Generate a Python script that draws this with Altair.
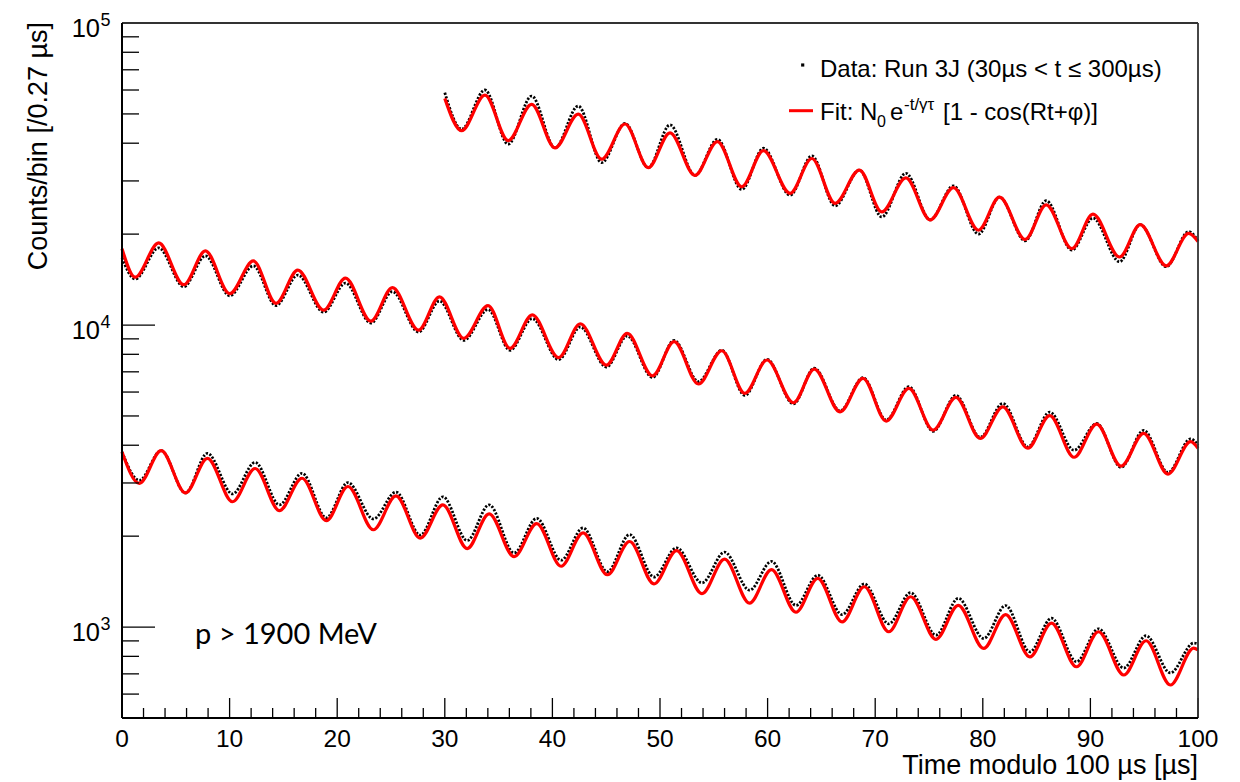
import altair as alt
import pandas as pd

# ---------------- values ----------------
# extrema (peak / trough) positions of each wrapped segment, time in µs modulo 100
t_upper = [30.0, 31.56, 33.73, 35.89, 38.07, 40.24, 42.40, 44.58, 46.75, 48.91,
           50.93, 53.25, 55.33, 57.60, 59.61, 62.09, 64.11, 66.27, 68.53, 70.61,
           72.85, 75.11, 77.27, 79.60, 81.55, 83.94, 85.89, 88.28, 90.24, 92.71,
           94.63, 97.05, 99.13, 100.0]
fit_upper = [56300, 44000, 57700, 40800, 53800, 38600, 49900, 35400, 46300, 33200,
             43300, 31300, 40500, 28700, 37800, 27300, 35600, 25300, 32600, 23700,
             30700, 22300, 28500, 20600, 26500, 19200, 25000, 17900, 23300, 16800,
             21500, 15700, 20100, 18900]
data_upper = [58800, 44500, 60000, 39700, 57300, 38600, 53100, 34500, 46500, 33200,
              46000, 31300, 41200, 28100, 38500, 26900, 36300, 24800, 32600, 22800,
              31800, 22300, 28900, 20000, 26500, 19000, 25800, 17700, 22600, 16200,
              21500, 15600, 20400, 19000]

t_middle = [0.0, 1.22, 3.41, 5.74, 7.75, 10.01, 12.21, 14.31, 16.34, 18.74,
            20.77, 23.13, 25.13, 27.56, 29.50, 31.76, 34.02, 36.06, 38.13, 40.58,
            42.59, 45.02, 46.95, 49.31, 51.31, 53.57, 55.74, 57.88, 59.94, 62.40,
            64.34, 66.73, 68.87, 71.02, 73.13, 75.39, 77.50, 79.76, 81.86, 84.18,
            86.22, 88.48, 90.58, 92.85, 94.95, 97.21, 99.31, 100.0]
fit_middle = [17900, 14400, 18700, 13600, 17600, 12700, 16300, 11800, 15200, 11200,
              14300, 10300, 13300, 9620, 12400, 9040, 11600, 8370, 10800, 7800,
              10100, 7370, 9390, 6790, 8810, 6380, 8220, 5940, 7660, 5530,
              7150, 5160, 6660, 4810, 6170, 4490, 5760, 4210, 5360, 3910,
              5010, 3650, 4700, 3410, 4380, 3210, 4110, 3910]
data_middle = [16700, 14200, 18000, 13400, 16950, 12500, 15700, 11600, 14640, 11030,
               13770, 10150, 12900, 9480, 12000, 8900, 11250, 8250, 10500, 7680,
               9850, 7260, 9200, 6700, 8900, 6500, 8250, 5850, 7700, 5480,
               7200, 5200, 6700, 4850, 6250, 4450, 5850, 4250, 5500, 3950,
               5150, 3850, 4720, 3380, 4480, 3250, 4200, 4000]

t_lower = [0.0, 1.61, 3.64, 5.90, 7.94, 10.27, 12.37, 14.63, 16.73, 18.99,
           21.00, 23.36, 25.46, 27.72, 29.82, 32.08, 34.12, 36.44, 38.54, 40.81,
           42.85, 45.11, 47.17, 49.44, 51.54, 53.90, 56.00, 58.32, 60.36, 62.63,
           64.66, 66.92, 68.99, 71.26, 73.29, 75.65, 77.72, 80.08, 82.12, 84.38,
           86.38, 88.71, 90.75, 93.10, 95.17, 97.43, 99.6, 100.0]
fit_lower = [3800, 2990, 3840, 2780, 3620, 2600, 3350, 2430, 3110, 2250,
             2920, 2100, 2720, 1970, 2540, 1820, 2370, 1710, 2200, 1590,
             2050, 1490, 1920, 1390, 1790, 1290, 1680, 1200, 1550, 1120,
             1450, 1040, 1360, 965, 1260, 911, 1180, 850, 1100, 797,
             1030, 739, 965, 694, 901, 643, 852, 840]
data_lower = [3800, 3060, 3840, 2780, 3760, 2760, 3510, 2540, 3230, 2300,
              3010, 2280, 2800, 2015, 2700, 1935, 2540, 1760, 2290, 1665,
              2130, 1525, 2025, 1465, 1830, 1400, 1770, 1325, 1650, 1180,
              1485, 1100, 1390, 1025, 1300, 940, 1245, 917, 1178, 828,
              1070, 768, 987, 732, 936, 705, 885, 880]

# axis ticks and labels
x_major = [0, 10, 20, 30, 40, 50, 60, 70, 80, 90, 100]
x_minor = [2, 4, 6, 8, 12, 14, 16, 18, 22, 24, 26, 28, 32, 34, 36, 38, 42, 44, 46, 48,
           52, 54, 56, 58, 62, 64, 66, 68, 72, 74, 76, 78, 82, 84, 86, 88, 92, 94, 96, 98]
y_major = [1000, 10000, 100000]
y_major_exp = ["3", "4", "5"]
y_minor = [600, 700, 800, 900,
           2000, 3000, 4000, 5000, 6000, 7000, 8000, 9000,
           20000, 30000, 40000, 50000, 60000, 70000, 80000, 90000]

x_title = "Time modulo 100 µs [µs]"
y_title = "Counts/bin [/0.27 µs]"
legend_data = "Data: Run 3J (30µs < t ≤ 300µs)"
legend_fit_parts = ["Fit: N", "0", "e", "-t/γτ", "[1 - cos(Rt+φ)]"]
note = "p > 1900 MeV"

# ---------------- build chart ----------------
rows = []
for seg, ts, fs, ds in [("upper", t_upper, fit_upper, data_upper),
                        ("middle", t_middle, fit_middle, data_middle),
                        ("lower", t_lower, fit_lower, data_lower)]:
    for t, f, d in zip(ts, fs, ds):
        rows.append({"seg": seg, "t": t, "fit": f, "data": d})
df = pd.DataFrame(rows)

W, H = 1076, 695
FONT = "Liberation Sans"
xs = alt.Scale(domain=[0, 100], nice=False, zero=False)
ys = alt.Scale(type="log", domain=[500, 100000], nice=False)

X = lambda f: alt.X(f, scale=xs, axis=None)
Y = lambda f: alt.Y(f, scale=ys, axis=None)

data_line = alt.Chart(df).mark_line(
    color="black", strokeWidth=2.8, strokeDash=[2.2, 1.6], interpolate="monotone"
).encode(x=X("t:Q"), y=Y("data:Q"), detail="seg:N")

fit_line = alt.Chart(df).mark_line(
    color="#ff0000", strokeWidth=3.2, interpolate="monotone"
).encode(x=X("t:Q"), y=Y("fit:Q"), detail="seg:N")

# frame
frame_l = alt.Chart(pd.DataFrame({"a": [0]})).mark_rule(color="black", strokeWidth=2).encode(
    x=alt.value(0), y=alt.value(0), y2=alt.value(H))
frame_b = alt.Chart(pd.DataFrame({"a": [0]})).mark_rule(color="black", strokeWidth=2).encode(
    x=alt.value(0), x2=alt.value(W), y=alt.value(H))
frame_t = alt.Chart(pd.DataFrame({"a": [0]})).mark_rule(color="#333333", strokeWidth=1.8).encode(
    x=alt.value(0), x2=alt.value(W), y=alt.value(0))
frame_r = alt.Chart(pd.DataFrame({"a": [0]})).mark_rule(color="#333333", strokeWidth=1.8).encode(
    x=alt.value(W), y=alt.value(0), y2=alt.value(H))

# ticks (ROOT style, pointing inward)
xt_major = alt.Chart(pd.DataFrame({"t": x_major})).mark_rule(color="black", strokeWidth=1.3).encode(
    x=X("t:Q"), y=alt.value(H), y2=alt.value(H - 20))
xt_minor = alt.Chart(pd.DataFrame({"t": x_minor})).mark_rule(color="black", strokeWidth=1.3).encode(
    x=X("t:Q"), y=alt.value(H), y2=alt.value(H - 10))
yt_major = alt.Chart(pd.DataFrame({"v": y_major})).mark_rule(color="black", strokeWidth=1.3).encode(
    y=Y("v:Q"), x=alt.value(0), x2=alt.value(33))
yt_minor = alt.Chart(pd.DataFrame({"v": y_minor})).mark_rule(color="black", strokeWidth=1.3).encode(
    y=Y("v:Q"), x=alt.value(0), x2=alt.value(17))

# tick labels
x_labels = alt.Chart(pd.DataFrame({"t": x_major})).mark_text(
    font=FONT, fontSize=24.5, align="center", baseline="alphabetic", color="black"
).encode(x=X("t:Q"), y=alt.value(H + 28.7), text=alt.Text("t:Q", format="d"))

ylab_df = pd.DataFrame({"v": y_major, "base": ["10"] * len(y_major), "exp": y_major_exp})
y_labels = alt.Chart(ylab_df).mark_text(
    font=FONT, fontSize=25.5, align="right", baseline="alphabetic", dy=13.7, color="black"
).encode(y=Y("v:Q"), x=alt.value(-22), text="base:N")
y_exps = alt.Chart(ylab_df).mark_text(
    font=FONT, fontSize=18, align="left", baseline="alphabetic", dy=2.7, color="black"
).encode(y=Y("v:Q"), x=alt.value(-21.5), text="exp:N")


def label(txt, x, y, size, align="left", angle=None, font=FONT):
    kw = dict(font=font, fontSize=size, align=align, baseline="alphabetic", color="black")
    if angle is not None:
        kw["angle"] = angle
    return alt.Chart(pd.DataFrame({"s": [txt]})).mark_text(**kw).encode(
        x=alt.value(x), y=alt.value(y), text="s:N")


x_title_mark = label(x_title, W, H + 56, 27, align="right")
y_title_mark = label(y_title, -75.5, -1, 27, align="right", angle=270)

# legend
leg_dot = alt.Chart(pd.DataFrame({"a": [0]})).mark_point(
    shape="square", filled=True, size=10, color="black", opacity=1
).encode(x=alt.value(680.7), y=alt.value(42))
leg_line = alt.Chart(pd.DataFrame({"a": [0]})).mark_rule(color="#ff0000", strokeWidth=3).encode(
    x=alt.value(667), x2=alt.value(691), y=alt.value(87.7))
leg_t1 = label(legend_data, 698, 53.7, 24)
leg_f1 = label(legend_fit_parts[0], 698, 97, 24)
leg_f2 = label(legend_fit_parts[1], 755, 104, 16)
leg_f3 = label(legend_fit_parts[2], 768, 97, 24)
leg_f4 = label(legend_fit_parts[3], 782, 87, 17)
leg_f5 = label(legend_fit_parts[4], 821, 97, 24)

note_mark = label(note, 73, 621, 29, font="Lato")

chart = alt.layer(
    data_line, fit_line,
    xt_major, xt_minor, yt_major, yt_minor,
    frame_t, frame_r, frame_l, frame_b,
    x_labels, y_labels, y_exps, x_title_mark, y_title_mark,
    leg_dot, leg_line, leg_t1, leg_f1, leg_f2, leg_f3, leg_f4, leg_f5,
    note_mark,
).properties(
    width=W, height=H,
    padding={"left": 122, "top": 23, "right": 42, "bottom": 64},
    autosize=alt.AutoSizeParams(type="none"),
    background="white",
).configure_view(stroke=None)

chart.save("out.html", embed_options={"renderer": "svg", "actions": False})
